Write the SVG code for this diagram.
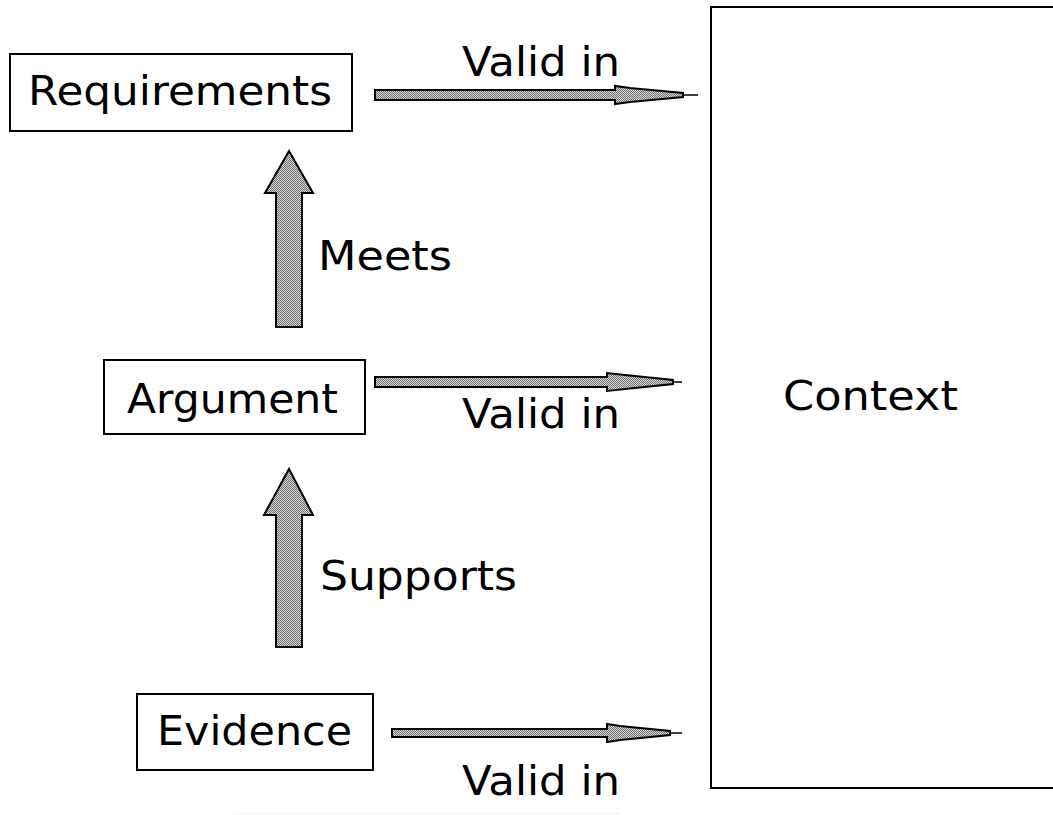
<svg xmlns="http://www.w3.org/2000/svg" width="1053" height="815" viewBox="0 0 1053 815">
  <style>
    .box { fill: #ffffff; stroke: #000000; stroke-width: 2; }
    .label { font-family: "DejaVu Sans", "Liberation Sans", sans-serif; font-size: 41px; fill: #000000; }
    .arrow { fill: url(#stipple); stroke: #000000; stroke-width: 2; stroke-linejoin: miter; }
    .tail { stroke: #000000; stroke-width: 1.5; fill: none; }
  </style>
  <defs>
    <!-- fine grey stipple used to fill the arrows -->
    <pattern id="stipple" width="2" height="2" patternUnits="userSpaceOnUse">
      <rect width="2" height="2" fill="#d8d8d8"/>
      <rect width="1" height="1" fill="#707070"/>
      <rect x="1" y="1" width="1" height="1" fill="#707070"/>
    </pattern>
  </defs>
  <rect width="1053" height="815" fill="#ffffff"/>

  <g id="context">
    <rect class="box" x="711" y="7" width="360" height="781"/>
    <text class="label" x="783" y="410" textLength="175" lengthAdjust="spacingAndGlyphs">Context</text>
  </g>

  <g id="requirements">
    <rect class="box" x="10" y="54" width="342" height="77"/>
    <text class="label" x="28" y="105" textLength="304" lengthAdjust="spacingAndGlyphs">Requirements</text>
  </g>

  <g id="argument">
    <rect class="box" x="104" y="360" width="261" height="74"/>
    <text class="label" x="127" y="413" textLength="211" lengthAdjust="spacingAndGlyphs">Argument</text>
  </g>

  <g id="evidence">
    <rect class="box" x="137" y="694" width="236" height="76"/>
    <text class="label" x="157" y="745" textLength="195" lengthAdjust="spacingAndGlyphs">Evidence</text>
  </g>

  <g id="connectors">
    <!-- Argument meets Requirements -->
    <polygon class="arrow" points="276,327 276,193 265,193 289,151 313,193 302,193 302,327"/>
    <text class="label" x="318" y="270" textLength="134" lengthAdjust="spacingAndGlyphs">Meets</text>

    <!-- Evidence supports Argument -->
    <polygon class="arrow" points="276,647 276,515 264,515 289,469 313,515 302,515 302,647"/>
    <text class="label" x="320" y="590" textLength="197" lengthAdjust="spacingAndGlyphs">Supports</text>

    <!-- Requirements valid in Context -->
    <polygon class="arrow" points="375,90 615,90 615,86 630,88 683,93 683,97 630,102 615,104 615,100 375,100"/>
    <line class="tail" x1="683" y1="95" x2="698" y2="95"/>
    <text class="label" x="462" y="76" textLength="158" lengthAdjust="spacingAndGlyphs">Valid in</text>

    <!-- Argument valid in Context -->
    <polygon class="arrow" points="375,377 607,377 607,373 625,375 673,380 673,384 625,389 607,391 607,387 375,387"/>
    <line class="tail" x1="673" y1="382" x2="682" y2="382"/>
    <text class="label" x="462" y="428" textLength="158" lengthAdjust="spacingAndGlyphs">Valid in</text>

    <!-- Evidence valid in Context -->
    <polygon class="arrow" points="392,729 607,729 607,724 620,726 670,731 670,735 620,740 607,742 607,737 392,737"/>
    <line class="tail" x1="670" y1="733" x2="682" y2="733"/>
    <text class="label" x="462" y="795" textLength="158" lengthAdjust="spacingAndGlyphs">Valid in</text>
  </g>

  <line x1="233" y1="813.5" x2="620" y2="813.5" stroke="#eeeeee" stroke-width="1"/>
</svg>
